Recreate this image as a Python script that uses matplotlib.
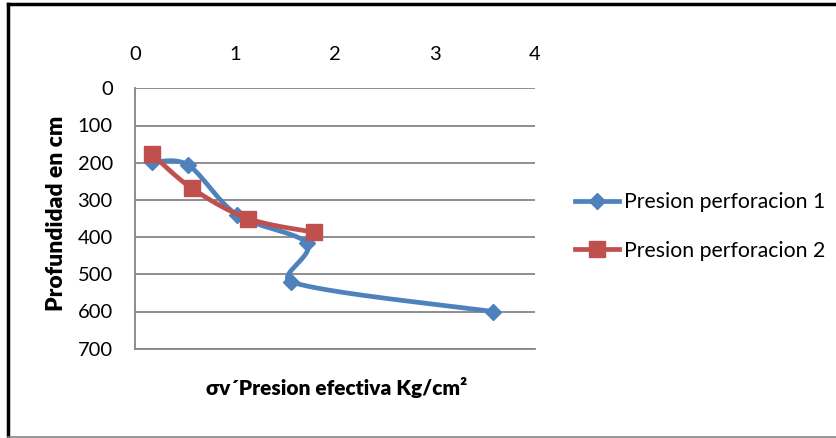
import numpy as np
import matplotlib.pyplot as plt
from matplotlib.lines import Line2D

plt.rcParams['font.family'] = ['Lato', 'DejaVu Sans']

# effective pressure (kg/cm2) vs depth (cm)
presion_1 = [0.17, 0.53, 1.02, 1.72, 1.56, 3.58]
prof_1 = [198, 206, 340, 417, 520, 600]
presion_2 = [0.17, 0.57, 1.13, 1.79]
prof_2 = [177, 269, 350, 387]

x_ticks = [0, 1, 2, 3, 4]
y_ticks = [0, 100, 200, 300, 400, 500, 600, 700]

azul = '#4F81BD'
rojo = '#C0504D'
gris = '#868686'


def suavizar(ax, xs, ys, n=40, tope=0.4):
    # bezier smoothing in screen space; handle length capped against the segment length
    tr = ax.transData
    p = tr.transform(np.column_stack([xs, ys]).astype(float))
    m = len(p)
    tang = np.array([(p[min(i + 1, m - 1)] - p[max(i - 1, 0)]) / 6 for i in range(m)])
    t = np.linspace(0, 1, n)[:, None]
    out = []
    for i in range(m - 1):
        p1, p2 = p[i], p[i + 1]
        L = np.linalg.norm(p2 - p1)
        h1, h2 = tang[i].copy(), tang[i + 1].copy()
        for h in (h1, h2):
            nh = np.linalg.norm(h)
            if nh > tope * L:
                h *= tope * L / nh
        c1 = p1 + h1
        c2 = p2 - h2
        out.append(((1 - t) ** 3) * p1 + 3 * ((1 - t) ** 2) * t * c1
                   + 3 * (1 - t) * t ** 2 * c2 + t ** 3 * p2)
    out = tr.inverted().transform(np.vstack(out))
    return out[:, 0], out[:, 1]


fig = plt.figure(figsize=(8.36, 4.38), dpi=100)
ax = fig.add_axes([135 / 836, 1 - 348.7 / 438, 400 / 836, 260.4 / 438])
ax.set_xlim(0, 4)
ax.set_ylim(700, 0)

sx, sy = suavizar(ax, presion_1, prof_1)
ax.plot(sx, sy, color=azul, lw=3.4, solid_capstyle='round', zorder=3)
ax.plot(presion_1, prof_1, ls='none', marker='D', ms=8.5, color=azul, zorder=4)
sx, sy = suavizar(ax, presion_2, prof_2)
ax.plot(sx, sy, color=rojo, lw=3.4, solid_capstyle='round', zorder=5)
ax.plot(presion_2, prof_2, ls='none', marker='s', ms=11, color=rojo, zorder=6)

ax.set_xticks(x_ticks)
ax.set_yticks(y_ticks)
ax.xaxis.tick_top()
ax.tick_params(axis='x', length=0, pad=18, labelsize=14.5)
ax.tick_params(axis='y', length=0, pad=16, labelsize=14.5)
ax.yaxis.grid(True, color=gris, lw=1.3)
ax.set_axisbelow(True)
for s in ['right', 'top']:
    ax.spines[s].set_visible(False)
for s in ['left', 'bottom']:
    ax.spines[s].set_color(gris)
    ax.spines[s].set_linewidth(1.3)

fig.text(337 / 836, 1 - 388 / 438, 'σv´Presion efectiva Kg/cm²', ha='center', va='center',
         fontsize=15, fontweight='heavy')
fig.text(57 / 836, 1 - 213 / 438, 'Profundidad en cm', ha='center', va='center',
         rotation=90, fontsize=16.5, fontweight='heavy')

handles = [
    Line2D([], [], color=azul, lw=3.4, marker='D', ms=8.5),
    Line2D([], [], color=rojo, lw=3.4, marker='s', ms=11),
]
fig.legend(handles, ['Presion perforacion 1', 'Presion perforacion 2'],
           loc='center left', bbox_to_anchor=(566 / 836, 1 - 226.5 / 438),
           frameon=False, fontsize=15.3, handlelength=2.1, handletextpad=0.25,
           labelspacing=1.35, borderaxespad=0)

# outer frame
fig.add_artist(Line2D([8 / 836, 8 / 836], [0, 1 - 4 / 438], color='black', lw=2.5,
                      transform=fig.transFigure))
fig.add_artist(Line2D([8 / 836, 1], [1 - 4 / 438, 1 - 4 / 438], color='black', lw=2.5,
                      transform=fig.transFigure))
fig.add_artist(Line2D([8 / 836, 1], [1.5 / 438, 1.5 / 438], color=gris, lw=1.2,
                      transform=fig.transFigure))

fig.savefig('out.png', dpi=100)
